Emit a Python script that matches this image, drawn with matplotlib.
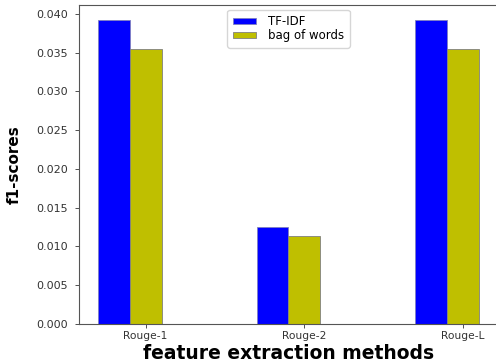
import numpy as np
import matplotlib
matplotlib.use('Agg')
import matplotlib.pyplot as plt

# 값들
methods = ['Rouge-1', 'Rouge-2', 'Rouge-L']
tfidf = [0.0392, 0.01248, 0.0392]
bow = [0.03548, 0.0114, 0.03548]

fig = plt.figure(figsize=(4.96, 3.62), dpi=100)
ax = fig.add_axes([79/496, 38/362, 419/496, 319/362])

w = 0.2
x = np.arange(len(methods))
ax.bar(x, tfidf, width=w, color='b', edgecolor='#8080c0', linewidth=0.6, label='TF-IDF')
ax.bar(x + w, bow, width=w, color='y', edgecolor='grey', linewidth=0.6, label='bag of words')

ax.set_xticks(x + w)
ax.set_xticklabels(methods)
ax.tick_params(axis='y', labelsize=8, colors='#333333', length=3, width=0.6, pad=5)
ax.tick_params(axis='x', labelsize=7.7, colors='#333333', length=3, width=0.6, pad=2)
for s in ax.spines.values():
    s.set_linewidth(0.8)
    s.set_color('#555555')

ax.set_xlabel('feature extraction methods', fontsize=13.5, fontweight='bold')
ax.xaxis.set_label_coords(0.5, -0.063)
ax.set_ylabel('f1-scores', fontsize=11, fontweight='bold')
ax.yaxis.set_label_coords(-0.136, 0.5)

ax.legend(loc='upper center', fontsize=8.5, handleheight=0.4, borderpad=0.45,
          labelspacing=0.1, handletextpad=1.0, framealpha=0.8,
          borderaxespad=0.4, bbox_to_anchor=(0.5, 1.0))

fig.savefig('out.png', dpi=100)
